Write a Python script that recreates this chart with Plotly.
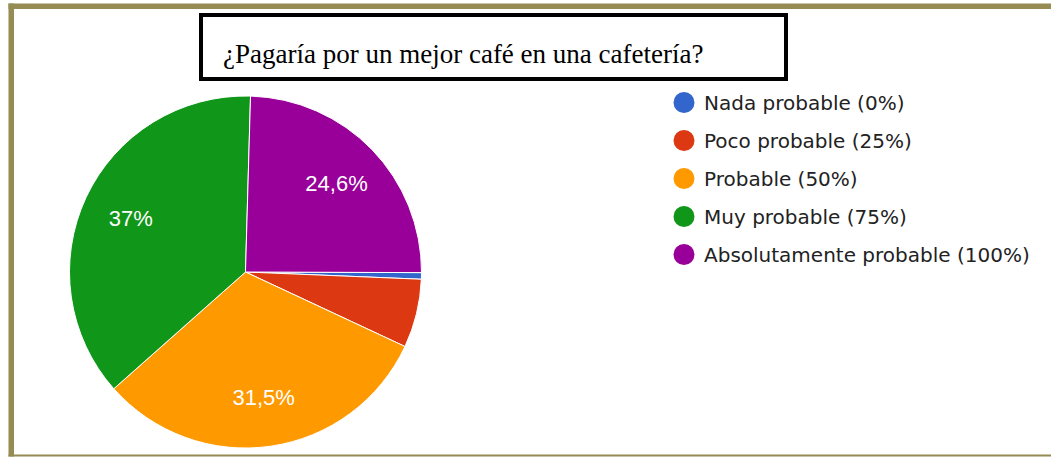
import plotly.graph_objects as go

W, H = 1051, 457

labels = ["Nada probable (0%)", "Poco probable (25%)", "Probable (50%)",
          "Muy probable (75%)", "Absolutamente probable (100%)"]
values = [0.6, 6.3, 31.5, 37.0, 24.6]
slice_text = ["", "", "31,5%", "37%", "24,6%"]
colors = ["#3366cc", "#dc3912", "#ff9900", "#109618", "#990099"]
title_text = "¿Pagaría por un mejor café en una cafetería?"

def px(x):
    return x / W

def py(y):
    return 1 - y / H

pie_domain = dict(x=[px(69.5), px(421.5)], y=[py(448), py(96)])
start_rotation = 90.2

fig = go.Figure()

fig.add_trace(go.Pie(
    labels=labels, values=values, sort=False, direction="clockwise",
    rotation=start_rotation, domain=pie_domain,
    marker=dict(colors=colors, line=dict(color="white", width=1)),
    textinfo="none", hoverinfo="skip", showlegend=False,
))

# label layer (same geometry, transparent ring) so the library places texts
fig.add_trace(go.Pie(
    labels=labels, values=values, sort=False, direction="clockwise",
    rotation=start_rotation, domain=pie_domain, hole=0.44,
    marker=dict(colors=["rgba(0,0,0,0)"] * len(values), line=dict(width=0)),
    text=slice_text, textinfo="text", textposition="inside",
    insidetextorientation="horizontal",
    textfont=dict(family="Liberation Sans, Arial, sans-serif", size=22, color="white"),
    hoverinfo="skip", showlegend=False,
))

for lab, col in zip(labels, colors):
    fig.add_trace(go.Scatter(
        x=[None], y=[None], mode="markers", name=lab, legendgroup=lab,
        marker=dict(symbol="circle", size=16, color=col, line=dict(color=col, width=5)),
        hoverinfo="skip",
    ))

olive = "#968b53"
shapes = [
    dict(type="rect", xref="paper", yref="paper", x0=px(8.5), x1=px(14), y0=py(456.5), y1=py(3.5),
         fillcolor=olive, line=dict(width=0), layer="above"),
    dict(type="rect", xref="paper", yref="paper", x0=px(8.5), x1=px(1051), y0=py(9), y1=py(3.5),
         fillcolor=olive, line=dict(width=0), layer="above"),
    dict(type="rect", xref="paper", yref="paper", x0=px(8.5), x1=px(1051), y0=py(456.5), y1=py(454.5),
         fillcolor=olive, line=dict(width=0), layer="above"),
    dict(type="rect", xref="paper", yref="paper", x0=px(201), x1=px(786), y0=py(79), y1=py(15),
         fillcolor="white", line=dict(color="black", width=4), layer="above"),
]

fig.update_layout(
    width=W, height=H, margin=dict(l=0, r=0, t=0, b=0),
    paper_bgcolor="white", plot_bgcolor="white",
    xaxis=dict(visible=False), yaxis=dict(visible=False),
    shapes=shapes,
    annotations=[dict(
        text=title_text, xref="paper", yref="paper", x=px(221), y=py(54),
        xanchor="left", yanchor="middle", showarrow=False,
        font=dict(family="Liberation Serif, Times New Roman, serif", size=27, color="black"),
    )],
    legend=dict(
        x=px(664), y=py(83), xanchor="left", yanchor="top",
        font=dict(family="DejaVu Sans, sans-serif", size=20, color="#222222"),
        traceorder="grouped", tracegroupgap=9, bgcolor="rgba(0,0,0,0)",
    ),
    showlegend=True,
    hovermode=False,
)

fig.write_html("out.html", config={"displayModeBar": False},
               post_script="document.body.style.margin='0px';")
